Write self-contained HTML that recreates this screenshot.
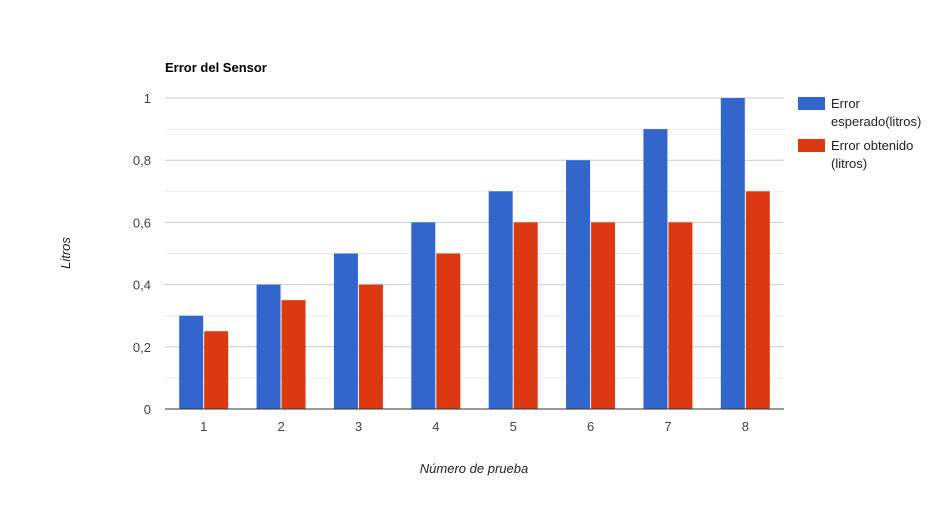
<!DOCTYPE html>
<html><head><meta charset="utf-8">
<style>
html,body{margin:0;padding:0;background:#fff;}
svg{display:block;font-family:"Liberation Sans",Arial,sans-serif;}
</style></head>
<body>
<svg id="chart" width="948" height="506" viewBox="0 0 948 506">
<text x="165" y="72" font-size="13" font-weight="bold" fill="#000">Error del Sensor</text>
<g id="grid"></g>
<g id="bars"></g>
<g id="labels"></g>
<text transform="translate(70,253) rotate(-90)" text-anchor="middle" font-size="13" font-style="italic" fill="#222">Litros</text>
<text x="474" y="473" text-anchor="middle" font-size="13" font-style="italic" fill="#222">Número de prueba</text>
<g>
<rect x="798" y="97" width="27" height="13" fill="#3366cc"/>
<text x="831" y="108" font-size="13" fill="#222"><tspan x="831">Error</tspan><tspan x="831" dy="18">esperado(litros)</tspan></text>
<rect x="798" y="139" width="27" height="13" fill="#dc3912"/>
<text x="831" y="150" font-size="13" fill="#222"><tspan x="831">Error obtenido</tspan><tspan x="831" dy="18">(litros)</tspan></text>
</g>
</svg>
<script>
const categories = ["1","2","3","4","5","6","7","8"];
const expected = [0.3,0.4,0.5,0.6,0.7,0.8,0.9,1.0];
const obtained = [0.25,0.35,0.4,0.5,0.6,0.6,0.6,0.7];
const yTicks = [0,0.2,0.4,0.6,0.8,1];
const yTickLabels = ["0","0,2","0,4","0,6","0,8","1"];

const NS="http://www.w3.org/2000/svg";
const X0=165,X1=784,Y0=409,Y1=98;
const y=v=>Y0-(Y0-Y1)*v;
const band=(X1-X0)/categories.length;
const xc=i=>X0+band*(i+0.5);
function mk(tag,attrs,parent){const e=document.createElementNS(NS,tag);for(const k in attrs)e.setAttribute(k,attrs[k]);document.getElementById(parent).appendChild(e);return e;}
for(let v=0.1;v<1.05;v+=0.2){
  const l=mk("line",{x1:X0,x2:X1,y1:y(v),y2:y(v),stroke:"#ebebeb"},"grid");
  
  
}
yTicks.forEach((t,i)=>{
  if(t>0){const l=mk("line",{x1:X0,x2:X1,y1:y(t),y2:y(t),stroke:"#cccccc"},"grid");
  
  }
  const tx=mk("text",{x:151,y:y(t)+5,"text-anchor":"end","font-size":13,fill:"#444"},"labels");
  tx.textContent=yTickLabels[i];
  
  
});
const bw=24;
categories.forEach((c,i)=>{
  const b1=mk("rect",{x:xc(i)-bw-0.5,y:y(expected[i]),width:bw,height:Y0-y(expected[i]),fill:"#3366cc"},"bars");
  
  
  const b2=mk("rect",{x:xc(i)+0.5,y:y(obtained[i]),width:bw,height:Y0-y(obtained[i]),fill:"#dc3912"},"bars");
  
  
  const t=mk("text",{x:xc(i),y:431,"text-anchor":"middle","font-size":13,fill:"#444"},"labels");
  t.textContent=c;
  
  
});
const base=mk("line",{x1:X0,x2:X1,y1:Y0,y2:Y0,stroke:"#333"},"bars");


</script>
</body></html>
